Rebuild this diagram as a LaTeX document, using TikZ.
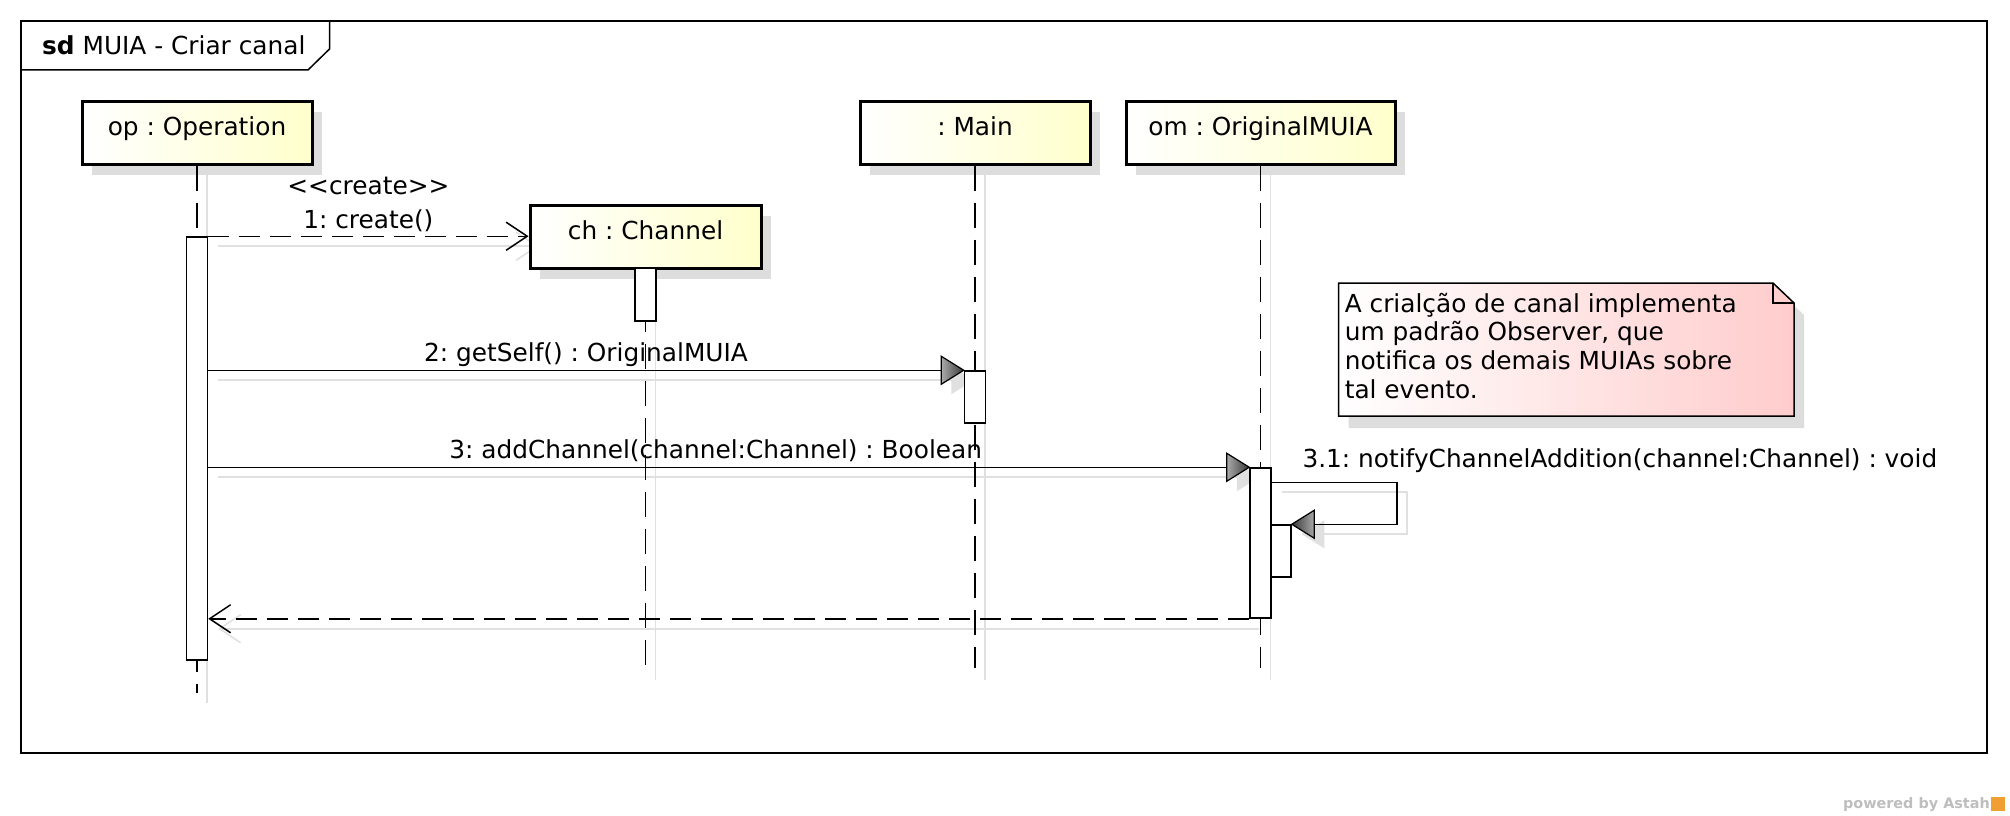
\documentclass[tikz,border=0pt]{standalone}
\usepackage{fontspec}
\setmainfont{DejaVu Sans}
\usetikzlibrary{arrows.meta,shadows}
\definecolor{objy}{RGB}{255,255,204}
\definecolor{notep}{RGB}{255,204,204}
\definecolor{shd}{RGB}{221,221,221}
\definecolor{shdl}{RGB}{224,224,224}
\definecolor{tipd}{RGB}{55,55,55}
\definecolor{tipl}{RGB}{170,170,170}
\definecolor{wm}{RGB}{190,190,190}
\definecolor{astahor}{RGB}{240,160,50}
\pgfdeclarelayer{back}
\pgfdeclarelayer{bg}
\pgfsetlayers{back,bg,main}
\newcommand\fs{\fontsize{24.8pt}{28.7pt}\selectfont\frenchspacing}
\frenchspacing
\begin{document}
\begin{tikzpicture}[x=1pt,y=-1pt,
  every node/.style={font=\fs},
  obj/.style={draw, line width=3pt, left color=white, right color=objy, minimum height=63pt, inner sep=0pt, text height=18pt, text depth=13pt, general shadow={fill=shd, shadow xshift=10pt, shadow yshift=-11pt}},
  bar/.style={draw, line width=1.5pt, fill=white, minimum width=21pt, inner sep=0pt},
  life/.style={line width=1.4pt, dash pattern=on 25pt off 12pt},
  lifeshd/.style={line width=1.8pt, draw=shdl},
  msg/.style={line width=1.5pt},
  msgd/.style={line width=1.5pt, dash pattern=on 21pt off 10pt},
  msgshd/.style={line width=2pt, draw=shdl},
  opena/.style={-{Straight Barb[length=21pt,width=28pt,line width=1.5pt]}},
  lbl/.style={inner sep=0pt, anchor=base},
  gtipR/.pic={\shadedraw[line width=1.2pt, draw=black, left color=tipl, right color=tipd] (0,0) -- (-22.5,-14) -- (-22.5,14) -- cycle;},
  gtipL/.pic={\shadedraw[line width=1.2pt, draw=black, left color=tipd, right color=tipl] (0,0) -- (22.5,-14) -- (22.5,14) -- cycle;},
  stipR/.pic={\fill[shdl] (0,0) -- (-22.5,-14) -- (-22.5,14) -- cycle;},
  stipL/.pic={\fill[shdl] (0,0) -- (22.5,-14) -- (22.5,14) -- cycle;}
]
\begin{pgfonlayer}{back}
\fill[white] (0,0) rectangle (2010,816);
\end{pgfonlayer}
\useasboundingbox (0,0) rectangle (2010,816);

% frame
\draw[line width=2pt] (21,21) rectangle (1987,753);
\draw[line width=1.5pt] (21,70) -- (308,70) -- (329.5,49) -- (329.5,21);
\node[anchor=base west, inner sep=0pt] (title) at (42,55) {\textbf{sd} MUIA - Criar canal};

% objects
\node[obj, minimum width=230pt] (op) at (197,132.5) {op : Operation};
\node[obj, minimum width=231pt] (ch) at (645.5,236.5) {ch : Channel};
\node[obj, minimum width=230pt] (main) at (975,132.5) {: Main};
\node[obj, minimum width=269pt] (om) at (1260.5,132.5) {om : OriginalMUIA};

\coordinate (opE) at (197,693);
\coordinate (chE) at (645.5,668);
\coordinate (mainE) at (975,668);
\coordinate (omE) at (1260.5,668);

% lifelines
\draw[life] (op.south) -- (opE);
\draw[life] (ch.south) -- (chE);
\draw[life] (main.south) -- (mainE);
\draw[life] (om.south) -- (omE);

% activations
\node[bar, minimum height=423pt] (opA) at (197,448.5) {};
\node[bar, minimum height=53pt] (chA) at (645.5,294.5) {};
\node[bar, minimum height=52pt] (mainA) at (975,397) {};
\node[bar, minimum height=150pt] (omA) at (1260.5,543) {};
\node[bar, minimum width=20pt, minimum height=52pt] (omA2) at (1281,551) {};

% messages
\draw[msgd, opena] (opA.north east) -- (ch.west |- opA.north east)
  node[lbl, midway, yshift=8pt] (l1) {1: create()}
  node[lbl, midway, yshift=42pt] (l0) {<{}<create>{}>};
\draw[msg] (opA.east |- mainA.north) -- (mainA.north west)
  node[lbl, midway, yshift=9pt] (l2) {2: getSelf() : OriginalMUIA};
\pic at (mainA.north west) {gtipR};
\draw[msg] (opA.east |- omA.north) -- (omA.north west)
  node[lbl, pos=0.4875, yshift=9pt] (l3) {3: addChannel(channel:Channel) : Boolean};
\pic at (omA.north west) {gtipR};
\draw[msg] ([yshift=-15pt]omA.north east)
  node[lbl, anchor=base west, xshift=30pt, yshift=15pt] (l31) {3.1: notifyChannelAddition(channel:Channel) : void}
  -- ++(125,0) |- (omA2.north east);
\pic at (omA2.north east) {gtipL};
\draw[msgd, opena] (omA.south west) -- (opA.east |- omA.south west);

% note
\fill[shd] (1348.6,295) -- (1783,295) -- (1804,315) -- (1804,428) -- (1348.6,428) -- cycle;
\shadedraw[line width=1.5pt, left color=white, right color=notep] (1338.6,283) -- (1773,283) -- (1794,303) -- (1794,416) -- (1338.6,416) -- cycle;
\draw[line width=1.5pt] (1773,283) -- (1773,303) -- (1794,303);
\node[anchor=north west, align=left, inner sep=0pt] (note) at (1344.6,292.8) {A crialção de canal implementa\\um padrão Observer, que\\notifica os demais MUIAs sobre\\tal evento.};

% shadows
\begin{pgfonlayer}{bg}
\draw[lifeshd] ([xshift=10pt]op.south) -- ([shift={(10,10)}]opE);
\draw[lifeshd] ([xshift=10pt]ch.south) -- ([shift={(10,12)}]chE);
\draw[lifeshd] ([xshift=10pt]main.south) -- ([shift={(10,12)}]mainE);
\draw[lifeshd] ([xshift=10pt]om.south) -- ([shift={(10,12)}]omE);
\begin{scope}[transform canvas={xshift=10pt,yshift=-10pt}]
\draw[msgshd, opena] (opA.north east) -- (ch.west |- opA.north east);
\draw[msgshd] (opA.east |- mainA.north) -- (mainA.north west);
\pic at (mainA.north west) {stipR};
\draw[msgshd] (opA.east |- omA.north) -- (omA.north west);
\pic at (omA.north west) {stipR};
\draw[msgshd] ([yshift=-15pt]omA.north east) -- ++(125,0) |- (omA2.north east);
\pic at (omA2.north east) {stipL};
\draw[msgshd, opena] (omA.south west) -- (opA.east |- omA.south west);
\end{scope}
\end{pgfonlayer}

% watermark
\node[anchor=base east, inner sep=0pt, font=\bfseries\fontsize{14.4pt}{16pt}\selectfont, text=wm] (wm) at (1990,808) {powered by Astah};
\fill[astahor] (1991,797) rectangle (2005,811);
\end{tikzpicture}
\end{document}
